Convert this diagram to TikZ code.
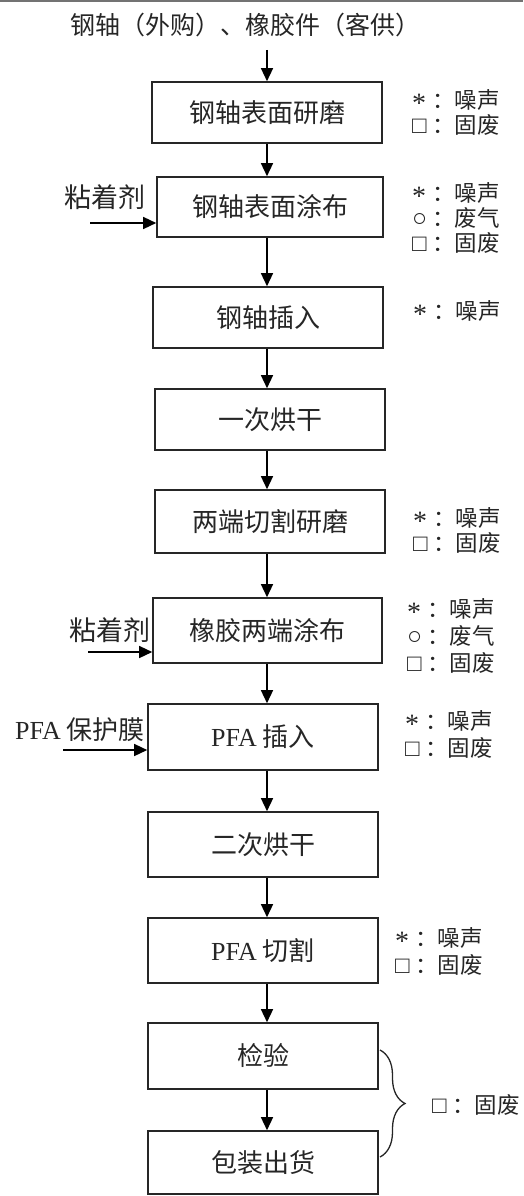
\documentclass[tikz,border=0pt]{standalone}
\usepackage{fontspec}
\setmainfont{Liberation Serif}
\newfontfamily\cjk{Noto Sans CJK SC}
\newfontfamily\serif{Liberation Serif}
\usetikzlibrary{arrows.meta,decorations.pathreplacing,calc}
\newcommand\symstar{\raisebox{-4pt}{\serif\fontsize{28}{25}\selectfont *}}
\newcommand\symcirc{{\serif\fontsize{25}{25}\selectfont ○}}
\newcommand\symsq{{\serif\fontsize{24}{25}\selectfont □}}
\newcommand\lbl[2]{\makebox[20pt][l]{#1}：#2}
\tikzset{
  proc/.style={draw=black!85, line width=1.6pt, minimum width=230pt, minimum height=62pt,
    inner sep=0pt, font=\fontsize{26}{28}\selectfont\cjk, text=black!85},
  flow/.style={line width=1.4pt, -{Triangle[length=13pt,width=12pt]}},
  side/.style={anchor=west, inner sep=0pt, align=left, text=black!85,
    font=\fontsize{22.5}{25}\selectfont\cjk},
  sideb/.style={side, font=\fontsize{22.5}{27}\selectfont\cjk},
  inlab/.style={inner sep=0pt, text=black!85, font=\fontsize{27}{28}\selectfont\cjk},
}
\begin{document}
\begin{tikzpicture}[x=1pt,y=-1pt]
\useasboundingbox (0,0) rectangle (523,1196);
\draw[line width=1.5pt, black!55] (0,0.8) -- (523,0.8);

\node[inlab, font=\fontsize{25}{28}\selectfont\cjk] (top) at (245,25) {钢轴（外购）、橡胶件（客供）};
\coordinate (ax) at (267,0);
\coordinate (start) at (267,50);

\node[proc, minimum height=61pt] (b1) at (267,112.5) {钢轴表面研磨};
\node[proc, minimum width=226pt, minimum height=60pt] (b2) at (270,207) {钢轴表面涂布};
\node[proc, minimum height=61pt] (b3) at (268,317.5) {钢轴插入};
\node[proc, minimum height=61pt] (b4) at (270,419.5) {一次烘干};
\node[proc, minimum height=63pt] (b5) at (270,521.5) {两端切割研磨};
\node[proc, minimum width=229pt, minimum height=65pt] (b6) at (267.5,630.5) {橡胶两端涂布};
\node[proc, minimum height=66pt] (b7) at (263,737) {{\serif PFA} 插入};
\node[proc, minimum height=65pt] (b8) at (263,844.5) {二次烘干};
\node[proc, minimum height=65pt] (b9) at (263,950.5) {{\serif PFA} 切割};
\node[proc, minimum height=66pt] (b10) at (263,1056) {检验};
\node[proc, minimum height=63pt] (b11) at (263,1162.5) {包装出货};

\draw[flow] (start) -- (b1.north -| ax);
\foreach \a/\b in {b1/b2,b2/b3,b3/b4,b4/b5,b5/b6,b6/b7,b7/b8,b8/b9,b9/b10,b10/b11}
  \draw[flow] (\a.south -| ax) -- (\b.north -| ax);

% inputs
\node[inlab] (in2lab) at (105,197) {粘着剂};
\coordinate (in2) at (90,223);
\draw[flow] (in2) -- (in2 -| b2.west);
\node[inlab] (in6lab) at (110,630) {粘着剂};
\coordinate (in6) at (88,652);
\draw[flow] (in6) -- (in6 -| b6.west);
\node[inlab, font=\fontsize{26}{28}\selectfont\cjk] (in7lab) at (80,730) {{\serif PFA} 保护膜};
\coordinate (in7) at (63,750);
\draw[flow] (in7) -- (in7 -| b7.west);

% side labels
\node[side] (s1) at (412,112.5) {\lbl{\symstar}{噪声}\\\lbl{\symsq}{固废}};
\node[side] (s2) at (412,218) {\lbl{\symstar}{噪声}\\\lbl{\symcirc}{废气}\\\lbl{\symsq}{固废}};
\node[side] (s3) at (413,312) {\lbl{\symstar}{噪声}};
\node[side] (s5) at (413,530) {\lbl{\symstar}{噪声}\\\lbl{\symsq}{固废}};
\node[sideb] (s6) at (407,636) {\lbl{\symstar}{噪声}\\\lbl{\symcirc}{废气}\\\lbl{\symsq}{固废}};
\node[sideb] (s7) at (405,734) {\lbl{\symstar}{噪声}\\\lbl{\symsq}{固废}};
\node[sideb] (s9) at (395,951) {\lbl{\symstar}{噪声}\\\lbl{\symsq}{固废}};

\coordinate (brT) at (380,1050);
\coordinate (brB) at (380,1157);
\draw[line width=1.3pt, black!85, decorate, decoration={brace, amplitude=25pt}] (brT) -- (brB);
\node[side] (s10) at (432,1105) {\lbl{\symsq}{固废}};
\end{tikzpicture}
\end{document}
